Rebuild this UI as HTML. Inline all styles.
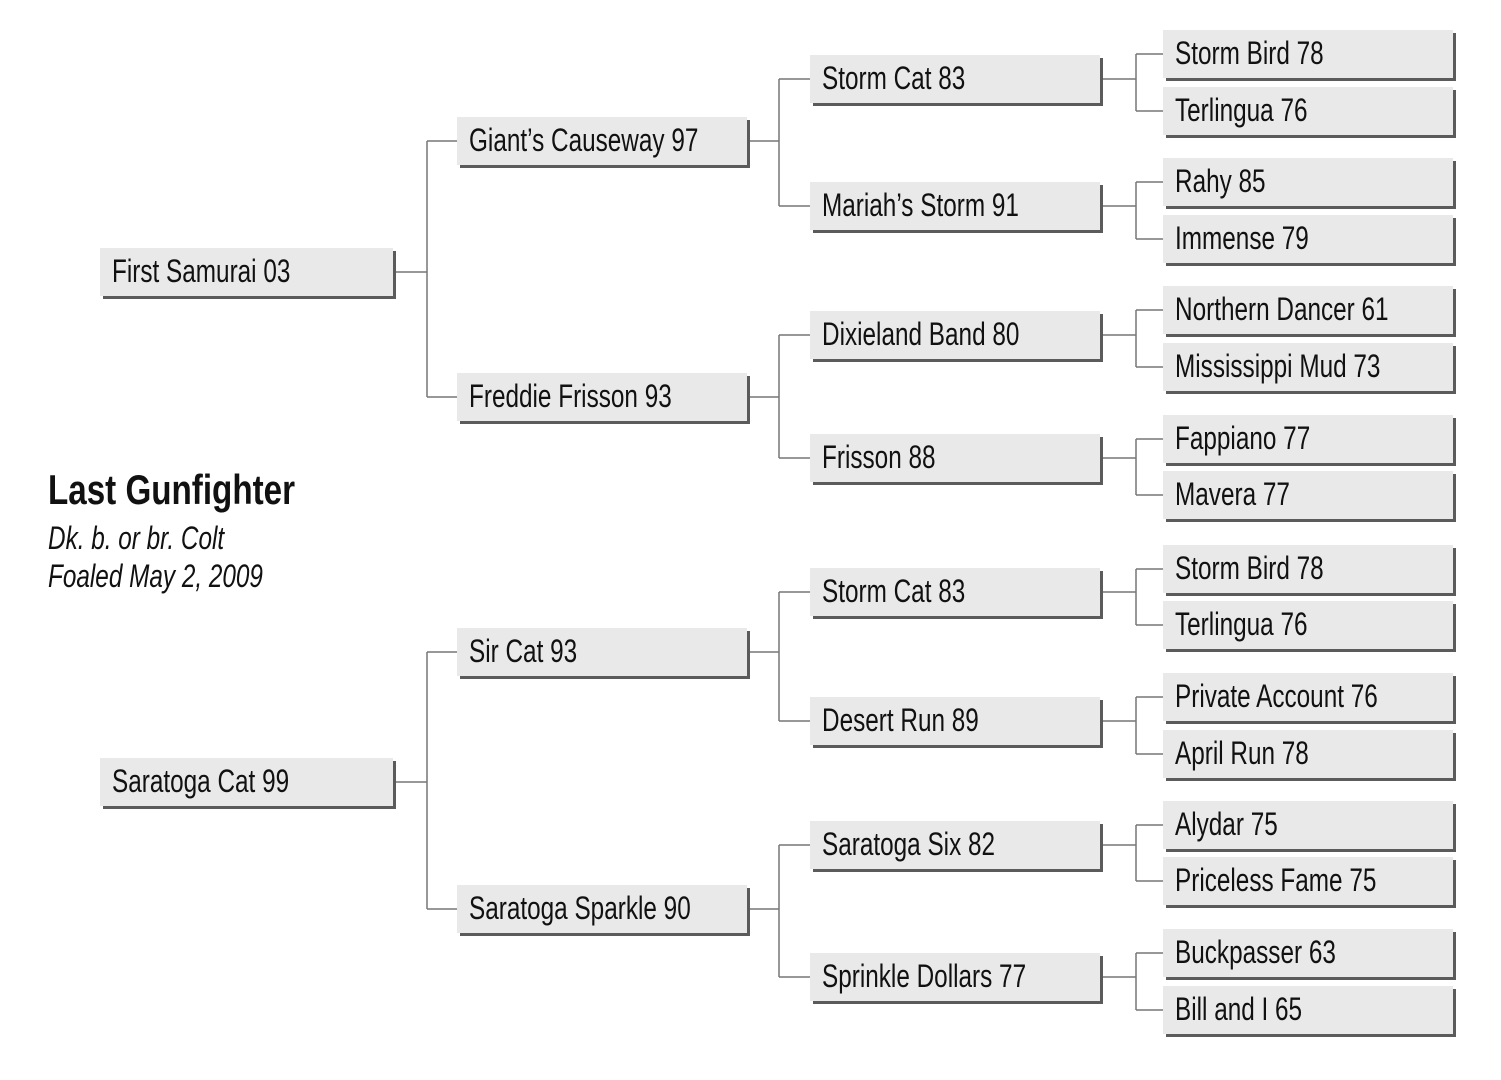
<!DOCTYPE html>
<html><head><meta charset="utf-8"><style>
body{margin:0;width:1501px;height:1080px;background:#fff;position:relative;overflow:hidden;font-family:"Liberation Sans",sans-serif;}
.b{position:absolute;height:48px;background:#e9e9e9;box-shadow:3px 3px 0 #5b5b5b;font-size:32px;line-height:46px;padding-left:12px;box-sizing:border-box;color:#111;white-space:nowrap;}
.b span,.t span{display:inline-block;transform:scaleX(0.76);transform-origin:0 50%;}
.g1{left:100px;width:293px}
.g2{left:457px;width:290px}
.g3{left:810px;width:290px}
.g4{left:1163px;width:290px}
svg{position:absolute;left:0;top:0}
.t{position:absolute;left:48px;white-space:nowrap;color:#111}
</style></head><body>
<svg width="1501" height="1080"><g stroke="#777" stroke-width="1.5" fill="none">
<path d="M396 272H427M427 141V397M427 141H457M427 397H457"/>
<path d="M396 782H427M427 652V909M427 652H457M427 909H457"/>
<path d="M750 141H779M779 79V206M779 79H810M779 206H810"/>
<path d="M750 397H779M779 335V458M779 335H810M779 458H810"/>
<path d="M750 652H779M779 592V721M779 592H810M779 721H810"/>
<path d="M750 909H779M779 845V977M779 845H810M779 977H810"/>
<path d="M1103 79H1136M1136 54V111M1136 54H1163M1136 111H1163"/>
<path d="M1103 206H1136M1136 182V239M1136 182H1163M1136 239H1163"/>
<path d="M1103 335H1136M1136 310V367M1136 310H1163M1136 367H1163"/>
<path d="M1103 458H1136M1136 439V495M1136 439H1163M1136 495H1163"/>
<path d="M1103 592H1136M1136 569V625M1136 569H1163M1136 625H1163"/>
<path d="M1103 721H1136M1136 697V754M1136 697H1163M1136 754H1163"/>
<path d="M1103 845H1136M1136 825V881M1136 825H1163M1136 881H1163"/>
<path d="M1103 977H1136M1136 953V1010M1136 953H1163M1136 1010H1163"/>
</g></svg>
<div class="t" style="top:466px;font-size:42px;font-weight:bold;"><span style="transform:scaleX(0.79)">Last Gunfighter</span></div>
<div class="t" style="top:520px;font-size:32px;font-style:italic;"><span>Dk. b. or br. Colt</span></div>
<div class="t" style="top:558px;font-size:32px;font-style:italic;"><span>Foaled May 2, 2009</span></div>

<div class="b g1" style="top:248px"><span>First Samurai 03</span></div>
<div class="b g1" style="top:758px"><span>Saratoga Cat 99</span></div>

<div class="b g2" style="top:117px"><span>Giant’s Causeway 97</span></div>
<div class="b g2" style="top:373px"><span>Freddie Frisson 93</span></div>
<div class="b g2" style="top:628px"><span>Sir Cat 93</span></div>
<div class="b g2" style="top:885px"><span>Saratoga Sparkle 90</span></div>

<div class="b g3" style="top:55px"><span>Storm Cat 83</span></div>
<div class="b g3" style="top:182px"><span>Mariah’s Storm 91</span></div>
<div class="b g3" style="top:311px"><span>Dixieland Band 80</span></div>
<div class="b g3" style="top:434px"><span>Frisson 88</span></div>
<div class="b g3" style="top:568px"><span>Storm Cat 83</span></div>
<div class="b g3" style="top:697px"><span>Desert Run 89</span></div>
<div class="b g3" style="top:821px"><span>Saratoga Six 82</span></div>
<div class="b g3" style="top:953px"><span>Sprinkle Dollars 77</span></div>

<div class="b g4" style="top:30px"><span>Storm Bird 78</span></div>
<div class="b g4" style="top:87px"><span>Terlingua 76</span></div>
<div class="b g4" style="top:158px"><span>Rahy 85</span></div>
<div class="b g4" style="top:215px"><span>Immense 79</span></div>
<div class="b g4" style="top:286px"><span>Northern Dancer 61</span></div>
<div class="b g4" style="top:343px"><span>Mississippi Mud 73</span></div>
<div class="b g4" style="top:415px"><span>Fappiano 77</span></div>
<div class="b g4" style="top:471px"><span>Mavera 77</span></div>
<div class="b g4" style="top:545px"><span>Storm Bird 78</span></div>
<div class="b g4" style="top:601px"><span>Terlingua 76</span></div>
<div class="b g4" style="top:673px"><span>Private Account 76</span></div>
<div class="b g4" style="top:730px"><span>April Run 78</span></div>
<div class="b g4" style="top:801px"><span>Alydar 75</span></div>
<div class="b g4" style="top:857px"><span>Priceless Fame 75</span></div>
<div class="b g4" style="top:929px"><span>Buckpasser 63</span></div>
<div class="b g4" style="top:986px"><span>Bill and I 65</span></div>
</body></html>
